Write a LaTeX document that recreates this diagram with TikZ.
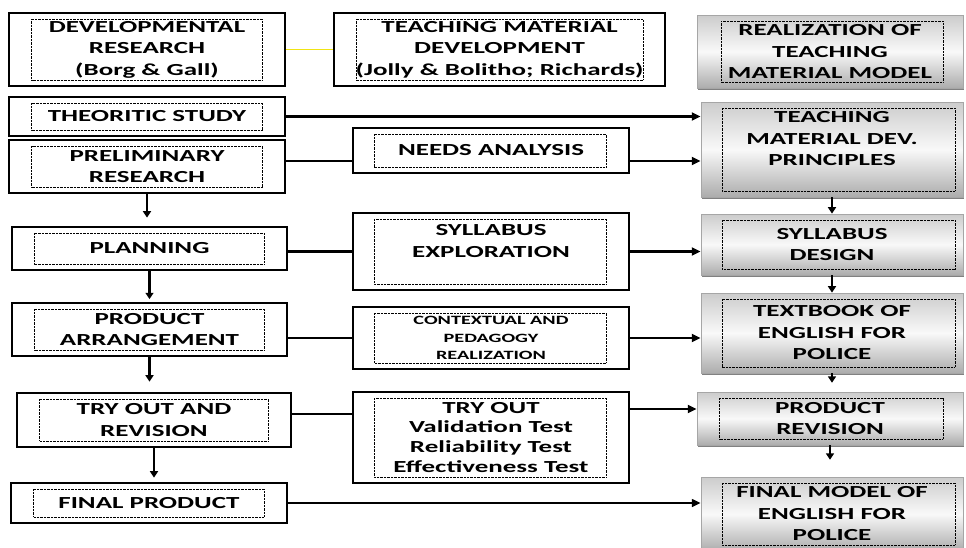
\documentclass[tikz,border=0pt]{standalone}
\usepackage{fontspec}
\setmainfont{Carlito}[FakeStretch=1.6]
\usetikzlibrary{arrows.meta, positioning, calc, shadows}
\definecolor{lineyellow}{RGB}{240,228,20}

\begin{document}
\begin{tikzpicture}[
  % Define styles for different elements
  box/.style={draw, line width=0.9pt, align=center, inner sep=0pt, font=\fontsize{12}{15.3}\selectfont\bfseries},
  dotbox/.style 2 args={path picture={\draw[black, line width=0.5pt, dash pattern=on 0.5pt off 0.5pt] ([shift={(#1,-0.15)}]path picture bounding box.north west) rectangle ([shift={(-#2,0.15)}]path picture bounding box.south east);}},
  stepbox/.style={box, minimum width=6.9cm, dotbox={0.57}{0.57}},
  midbox/.style={box, minimum width=6.9cm, dotbox={0.53}{0.57}},
  modelbox/.style={box, draw=gray!70, line width=0.6pt, top color=gray!40, bottom color=gray!65, middle color=gray!5, drop shadow={shadow xshift=0.6pt, shadow yshift=-1.4pt, fill=gray!90!black, opacity=0.9}, minimum width=6.55cm, dotbox={0.53}{0.2}},
  smalltext/.style={font=\fontsize{9}{12.4}\selectfont\bfseries},
  arrow/.style={-{Triangle[length=2.2mm, width=2mm]}, line width=1.5pt},
  downarrow/.style={-{Triangle[length=1.6mm, width=2mm]}, line width=1.5pt},
  link/.style={line width=1.8pt},
  yellowline/.style={lineyellow, line width=1.2pt}
]
\useasboundingbox (0,0) rectangle (24.15,-13.675);

% Header row
\node[stepbox, minimum height=1.825cm] (dev) at (3.675,-1.24) {DEVELOPMENTAL\\RESEARCH\\(Borg \& Gall)};
\node[midbox, minimum width=8.275cm, minimum height=1.825cm, dotbox={0.55}{0.55}] (tmd) at (12.49,-1.24) {TEACHING MATERIAL\\DEVELOPMENT\\(Jolly \& Bolitho; Richards)};
\node[modelbox, minimum width=6.65cm, minimum height=1.825cm, dotbox={0.6}{0.5}] (realize) at (20.75,-1.29) {REALIZATION OF\\TEACHING\\MATERIAL MODEL};

% Left column: research steps
\node[stepbox, minimum height=0.975cm] (theory) at (3.675,-2.9125) {THEORITIC STUDY};
\node[stepbox, minimum height=1.325cm] (prelim) at (3.675,-4.1625) {PRELIMINARY\\RESEARCH};
\node[stepbox, minimum width=6.875cm, minimum height=1.075cm] (plan) at (3.7375,-6.2125) {PLANNING};
\node[stepbox, minimum width=6.875cm, minimum height=1.325cm] (arrange) at (3.7375,-8.2375) {PRODUCT\\ARRANGEMENT};
\node[stepbox, minimum width=6.85cm, minimum height=1.35cm] (tryrev) at (3.85,-10.5) {TRY OUT AND\\REVISION};
\node[stepbox, minimum height=1cm] (final) at (3.725,-12.575) {FINAL PRODUCT};

% Middle column: material development
\node[midbox, minimum height=1.125cm] (needs) at (12.275,-3.7625) {NEEDS ANALYSIS};
\node[midbox, minimum height=1.925cm] (sylexp) at (12.275,-6.2875) {SYLLABUS\\EXPLORATION\\\mbox{}};
\node[midbox, smalltext, minimum height=1.55cm] (context) at (12.275,-8.45) {CONTEXTUAL AND\\PEDAGOGY\\REALIZATION};
\node[midbox, font=\fontsize{12}{14.2}\selectfont\bfseries, minimum height=2.275cm] (tryout) at (12.275,-10.9375) {TRY OUT\\Validation Test\\Reliability Test\\Effectiveness Test};

% Right column: model realization
\node[modelbox, minimum height=2.375cm] (princ) at (20.8,-3.7375) {TEACHING\\MATERIAL DEV.\\PRINCIPLES\\\mbox{}};
\node[modelbox, minimum height=1.525cm] (syldes) at (20.8,-6.1125) {SYLLABUS\\DESIGN};
\node[modelbox, minimum height=2cm] (textbook) at (20.8,-8.325) {TEXTBOOK OF\\ENGLISH FOR\\POLICE};
\node[modelbox, minimum width=6.65cm, minimum height=1.325cm, dotbox={0.57}{0.5}] (revise) at (20.75,-10.4625) {PRODUCT\\REVISION};
\node[modelbox, minimum height=1.85cm] (model) at (20.8,-12.85) {FINAL MODEL OF\\ENGLISH FOR\\POLICE};

% Rows where the connectors run
\coordinate (row_needs) at (0,-4.025);
\coordinate (row_try) at (0,-10.35);
\coordinate (row_rev) at (0,-10.225);

% Header link
\draw[yellowline] (dev) -- (tmd);

% Links across the columns
\draw[arrow] (theory.east) -- (theory.east -| princ.west);
\draw[link] (prelim.east |- row_needs) -- (needs.west |- row_needs);
\draw[arrow] (needs.east |- row_needs) -- (princ.west |- row_needs);
\draw[link] (sylexp.west -| plan.east) -- (sylexp.west);
\draw[arrow] (sylexp.east) -- (sylexp.east -| syldes.west);
\draw[link] (context.west -| arrange.east) -- (context.west);
\draw[arrow] (context.east) -- (context.east -| textbook.west);
\draw[link] (tryrev.east |- row_try) -- (tryout.west |- row_try);
\draw[arrow] (tryout.east |- row_rev) -- (revise.west |- row_rev);
\draw[arrow, line width=1.1pt] (final.east) -- (final.east -| model.west);

% Down arrows, left column
\draw[downarrow, shorten >=0.22cm] (prelim.south) -- (prelim.south |- plan.north);
\draw[downarrow, shorten >=0.08cm] (plan.south) -- (plan.south |- arrange.north);
\draw[downarrow, shorten >=0.27cm] (arrange.south) -- (arrange.south |- tryrev.north);
\draw[downarrow, shorten >=0.12cm] (tryrev.south) -- (tryrev.south |- final.north);

% Down arrows, right column
\draw[downarrow] (princ.south) -- (syldes.north);
\draw[downarrow] (syldes.south) -- (textbook.north);
\draw[downarrow, shorten >=0.22cm] (textbook.south) -- (textbook.south |- revise.north);
\draw[downarrow, shorten >=0.42cm] (revise.south) -- (revise.south |- model.north);

\end{tikzpicture}
\end{document}
